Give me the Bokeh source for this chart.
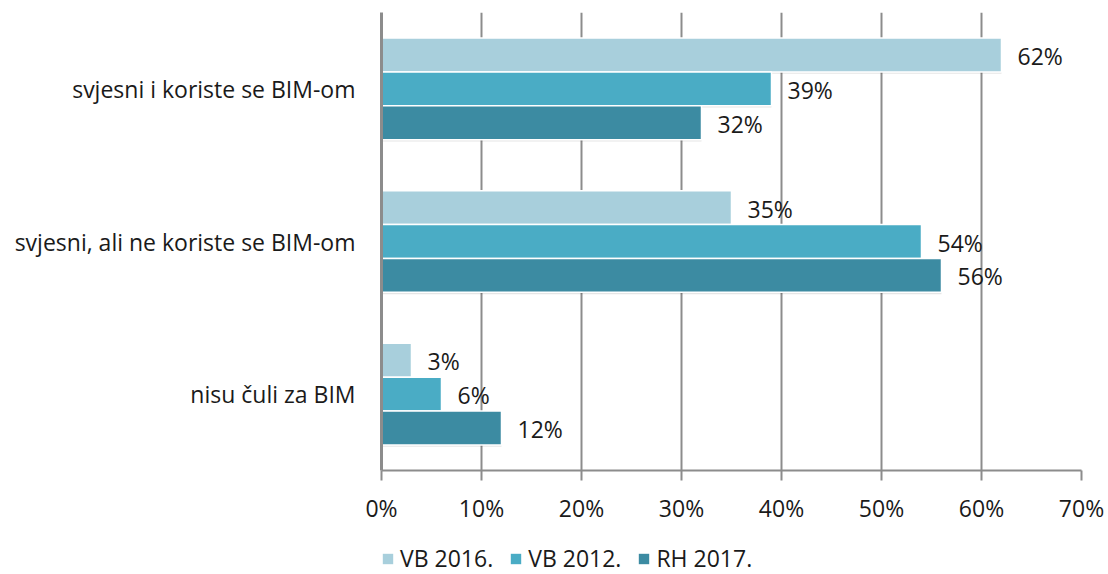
from bokeh.plotting import figure
from bokeh.layouts import column
from bokeh.models import ColumnDataSource, FactorRange, LabelSet, Legend, LegendItem, FixedTicker, NumeralTickFormatter
from bokeh.core.properties import value
from bokeh.transform import dodge
from bokeh.embed import file_html
from bokeh.resources import INLINE

categories = ["svjesni i koriste se BIM-om", "svjesni, ali ne koriste se BIM-om", "nisu čuli za BIM"]
series_names = ["VB 2016.", "VB 2012.", "RH 2017."]
vb2016 = [62, 35, 3]
vb2012 = [39, 54, 6]
rh2017 = [32, 56, 12]
colors = ["#a8cfdc", "#4aacc5", "#3c8ba2"]
x_ticks = [0, 10, 20, 30, 40, 50, 60, 70]

FONT = "Open Sans"
FS = "23px"
GRID = "#8c8c8c"
TXT = "#1a1a1a"

data = dict(cat=categories, vb2016=vb2016, vb2012=vb2012, rh2017=rh2017)
for k in ["vb2016", "vb2012", "rh2017"]:
    data[k + "_lbl"] = [f"{v}%" for v in data[k]]
src = ColumnDataSource(data)

p = figure(y_range=FactorRange(*reversed(categories)), x_range=(0, 70),
           width=1108, height=530,
           min_border_left=381, min_border_right=27, min_border_top=12, min_border_bottom=60,
           output_backend="svg", toolbar_location=None)
p.y_range.range_padding = 0
p.outline_line_color = None

bh = 0.222
offsets = [-bh, 0, bh]
keys = ["vb2016", "vb2012", "rh2017"]
for key, off, col in zip(keys, offsets, colors):
    # subtle shadow
    p.hbar(y=dodge("cat", -off - 0.012, range=p.y_range), left=0, right=key, height=bh,
           source=src, fill_color="#000000", fill_alpha=0.10, line_color=None)
    p.hbar(y=dodge("cat", -off, range=p.y_range), left=0, right=key, height=bh,
           source=src, fill_color=col, line_color="white", line_width=1.5)
    lbl = LabelSet(x=key, y=dodge("cat", -off, range=p.y_range), text=key + "_lbl", source=src,
                   x_offset=16, y_offset=-1, text_baseline="middle", text_align="left",
                   text_font=value(FONT), text_font_size=FS, text_color=TXT)
    p.add_layout(lbl)

p.xaxis.ticker = FixedTicker(ticks=x_ticks)
p.xaxis.formatter = NumeralTickFormatter(format="0")
p.xaxis.major_label_overrides = {t: f"{t}%" for t in x_ticks}
p.xaxis.axis_line_color = GRID
p.xaxis.axis_line_width = 2
p.xaxis.major_tick_line_color = GRID
p.xaxis.major_tick_line_width = 2
p.xaxis.major_tick_out = 10
p.xaxis.major_tick_in = 0
p.xaxis.minor_tick_line_color = None
p.xaxis.major_label_standoff = 11
p.xaxis.major_label_text_font = FONT
p.xaxis.major_label_text_font_size = FS
p.xaxis.major_label_text_color = TXT

p.yaxis.axis_line_color = GRID
p.yaxis.axis_line_width = 3
p.yaxis.major_tick_line_color = None
p.yaxis.minor_tick_line_color = None
p.yaxis.major_label_standoff = 20
p.yaxis.major_label_text_font = FONT
p.yaxis.major_label_text_font_size = FS
p.yaxis.major_label_text_color = TXT

p.xgrid.ticker = FixedTicker(ticks=x_ticks)
p.xgrid.grid_line_color = GRID
p.xgrid.grid_line_width = 2
p.ygrid.grid_line_color = None

# legend strip (its frame is aligned with the main plot's frame)
lg = figure(width=1108, height=44, x_range=(0, 1), y_range=(0, 1),
            min_border=0, min_border_left=0, min_border_right=0, min_border_top=0, min_border_bottom=0,
            x_axis_type=None, y_axis_type=None, output_backend="svg", toolbar_location=None)
lg.outline_line_color = None
lg.xgrid.grid_line_color = None
lg.ygrid.grid_line_color = None
# legend-only swatch renderers, kept outside the visible range
swatch = ColumnDataSource(dict(y=[-10], right=[0]))
lrs = [lg.hbar(y="y", left=0, right="right", height=0.1, source=swatch, fill_color=c, line_color=None)
       for c in colors]
legend = Legend(items=[LegendItem(label=n, renderers=[r], index=0) for n, r in zip(series_names, lrs)],
                orientation="horizontal", location=(0, 0),
                label_text_font=FONT, label_text_font_size=FS, label_text_color=TXT,
                glyph_width=13, glyph_height=13, spacing=16, label_standoff=6,
                border_line_color=None, background_fill_alpha=0, margin=0, padding=0)
lg.add_layout(legend, "center")

layout = column(p, lg, spacing=0)
open("out.html", "w").write(file_html(layout, INLINE))
